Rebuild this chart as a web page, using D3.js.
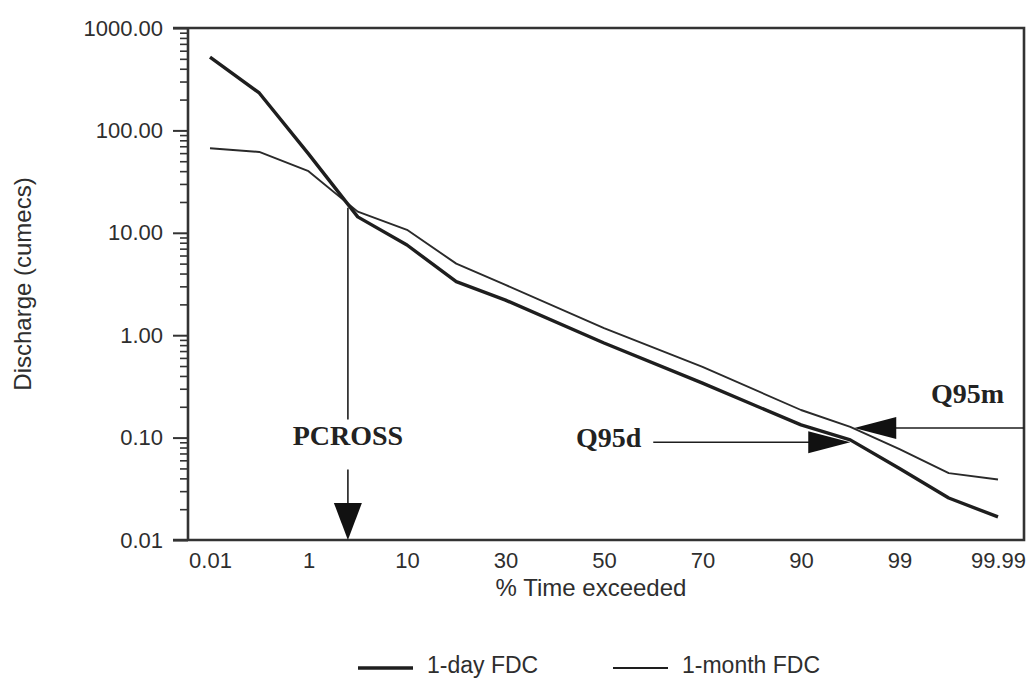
<!DOCTYPE html>
<html>
<head>
<meta charset="utf-8">
<script src="https://cdn.jsdelivr.net/npm/d3@7"></script>
<style>
  html, body { margin: 0; padding: 0; background: #fff; }
  svg { display: block; }
</style>
</head>
<body>
<svg id="chart" width="1033" height="680"></svg>
<script>
// ---------- data ----------
const exceedance = [0.01, 0.1, 1, 5, 10, 20, 30, 50, 70, 90, 95, 99, 99.9, 99.99];
const dayFDC   = [520, 232, 59, 14.3, 7.6, 3.33, 2.2, 0.84, 0.34, 0.133, 0.095, 0.050, 0.0257, 0.0168];
const monthFDC = [67, 61.6, 40, 16.1, 10.7, 5.0, 3.1, 1.17, 0.49, 0.186, 0.127, 0.077, 0.045, 0.039];

// probability-axis positions (evenly spaced) and labelled ticks
const axisPositions = [0.01, 0.1, 1, 5, 10, 20, 30, 40, 50, 60, 70, 80, 90, 95, 99, 99.9, 99.99];
const xTickValues = [0.01, 1, 10, 30, 50, 70, 90, 99, 99.99];
const xTickLabels = ["0.01", "1", "10", "30", "50", "70", "90", "99", "99.99"];
const yMajorTicks = [0.01, 0.1, 1, 10, 100, 1000];

// annotations
const pcross = { p: 4.2, q: 17.6, labelQ: 0.1 };
const q95d = { label: "Q95d", p: 95, q: 0.09, fromP: 60 };
const q95m = { label: "Q95m", p: 95, q: 0.124 };

const seriesNames = ["1-day FDC", "1-month FDC"];

// ---------- layout ----------
const frame = { left: 188, right: 1024, top: 28, bottom: 540 };
const firstTick = 210, step = 49.25;
const ink = "#1e1e1e", textCol = "#2e2e2e";
const sans = "Liberation Sans, Arial, sans-serif";

const svg = d3.select("#chart");

const x = d3.scaleLinear()
  .domain(axisPositions)
  .range(axisPositions.map((d, i) => firstTick + i * step));

const y = d3.scaleLog().domain([0.01, 1000]).range([frame.bottom, frame.top]);

// ---------- axes ----------
const minorTicks = y.ticks().filter(v => !yMajorTicks.some(m => Math.abs(m - v) / m < 1e-6));
const gMinor = svg.append("g")
  .attr("transform", `translate(${frame.left},0)`)
  .call(d3.axisLeft(y).tickValues(minorTicks).tickSize(8).tickFormat(""));
gMinor.select(".domain").remove();
gMinor.selectAll("line").attr("stroke", "#333").attr("stroke-width", 1.6);

const gMajor = svg.append("g")
  .attr("transform", `translate(${frame.left},0)`)
  .call(d3.axisLeft(y).tickValues(yMajorTicks).tickSize(15).tickPadding(10).tickFormat(d3.format(".2f")));
gMajor.select(".domain").remove();
gMajor.selectAll("line").attr("stroke", "#333").attr("stroke-width", 2);
gMajor.selectAll("text")
  .attr("font-family", sans)
  .attr("font-size", 22)
  .attr("fill", textCol);

const gx = svg.append("g")
  .attr("transform", `translate(0,${frame.bottom})`)
  .call(d3.axisBottom(x).tickValues(xTickValues).tickSize(0).tickPadding(12)
    .tickFormat((d, i) => xTickLabels[i]));
gx.select(".domain").remove();
gx.selectAll("text")
  .attr("font-family", sans)
  .attr("font-size", 22)
  .attr("fill", textCol);

// frame
svg.append("path")
  .attr("d", `M${frame.left - 15},${frame.top} H${frame.right} V${frame.bottom} H${frame.left - 15}
              M${frame.left},${frame.top} V${frame.bottom}`)
  .attr("fill", "none")
  .attr("stroke", "#333")
  .attr("stroke-width", 2.6);

// ---------- lines ----------
const line = d3.line().x(d => x(d[0])).y(d => y(d[1]));

svg.append("path")
  .datum(exceedance.map((p, i) => [p, monthFDC[i]]))
  .attr("d", line)
  .attr("fill", "none")
  .attr("stroke", "#2a2a2a")
  .attr("stroke-width", 1.9)
  .attr("stroke-linejoin", "round");

svg.append("path")
  .datum(exceedance.map((p, i) => [p, dayFDC[i]]))
  .attr("d", line)
  .attr("fill", "none")
  .attr("stroke", ink)
  .attr("stroke-width", 3.4)
  .attr("stroke-linejoin", "round");

// ---------- annotations ----------
const serif = "Liberation Serif, Times New Roman, serif";

// PCROSS
const px = x(pcross.p);
const labelY = y(pcross.labelQ);
svg.append("line")
  .attr("x1", px).attr("x2", px)
  .attr("y1", y(pcross.q)).attr("y2", labelY - 18)
  .attr("stroke", ink).attr("stroke-width", 1.6);
svg.append("text")
  .attr("x", px).attr("y", labelY + 7)
  .attr("text-anchor", "middle")
  .attr("font-family", serif).attr("font-weight", "bold")
  .attr("font-size", 28).attr("fill", "#222")
  .text("PCROSS");
svg.append("line")
  .attr("x1", px).attr("x2", px)
  .attr("y1", labelY + 32).attr("y2", frame.bottom - 36)
  .attr("stroke", ink).attr("stroke-width", 1.6);
svg.append("path")
  .attr("d", `M${px - 14},${frame.bottom - 37} L${px + 14},${frame.bottom - 37} L${px},${frame.bottom} Z`)
  .attr("fill", "#111");

// Q95d
const dY = y(q95d.q), dTip = x(q95d.p), dStart = x(q95d.fromP);
svg.append("line")
  .attr("x1", dStart).attr("x2", dTip - 40)
  .attr("y1", dY).attr("y2", dY)
  .attr("stroke", ink).attr("stroke-width", 1.6);
svg.append("path")
  .attr("d", `M${dTip - 42},${dY - 11} L${dTip},${dY} L${dTip - 42},${dY + 11} Z`)
  .attr("fill", "#111");
svg.append("text")
  .attr("x", dStart - 12).attr("y", dY + 5)
  .attr("text-anchor", "end")
  .attr("font-family", serif).attr("font-weight", "bold")
  .attr("font-size", 28).attr("fill", "#222")
  .text(q95d.label);

// Q95m
const mY = y(q95m.q), mTip = x(q95m.p) + 4;
svg.append("line")
  .attr("x1", mTip + 40).attr("x2", frame.right)
  .attr("y1", mY).attr("y2", mY)
  .attr("stroke", ink).attr("stroke-width", 1.6);
svg.append("path")
  .attr("d", `M${mTip + 42},${mY - 11} L${mTip},${mY} L${mTip + 42},${mY + 11} Z`)
  .attr("fill", "#111");
svg.append("text")
  .attr("x", frame.right - 20).attr("y", mY - 25)
  .attr("text-anchor", "end")
  .attr("font-family", serif).attr("font-weight", "bold")
  .attr("font-size", 28).attr("fill", "#222")
  .text(q95m.label);

// ---------- titles ----------
svg.append("text")
  .attr("x", 591).attr("y", 596)
  .attr("text-anchor", "middle")
  .attr("font-family", sans)
  .attr("font-size", 24).attr("fill", textCol)
  .text("% Time exceeded");

svg.append("text")
  .attr("transform", `translate(31,${(frame.top + frame.bottom) / 2}) rotate(-90)`)
  .attr("text-anchor", "middle")
  .attr("font-family", sans)
  .attr("font-size", 24).attr("fill", textCol)
  .text("Discharge (cumecs)");

// ---------- legend ----------
const legendItems = [
  { name: seriesNames[0], x0: 358, width: 3.6 },
  { name: seriesNames[1], x0: 613, width: 2.0 }
];
const lg = svg.append("g");
legendItems.forEach(it => {
  lg.append("line")
    .attr("x1", it.x0).attr("x2", it.x0 + 55)
    .attr("y1", 668).attr("y2", 668)
    .attr("stroke", ink).attr("stroke-width", it.width);
  lg.append("text")
    .attr("x", it.x0 + 69).attr("y", 673)
    .attr("font-family", sans)
    .attr("font-size", 23).attr("fill", textCol)
    .text(it.name);
});
</script>
</body>
</html>
